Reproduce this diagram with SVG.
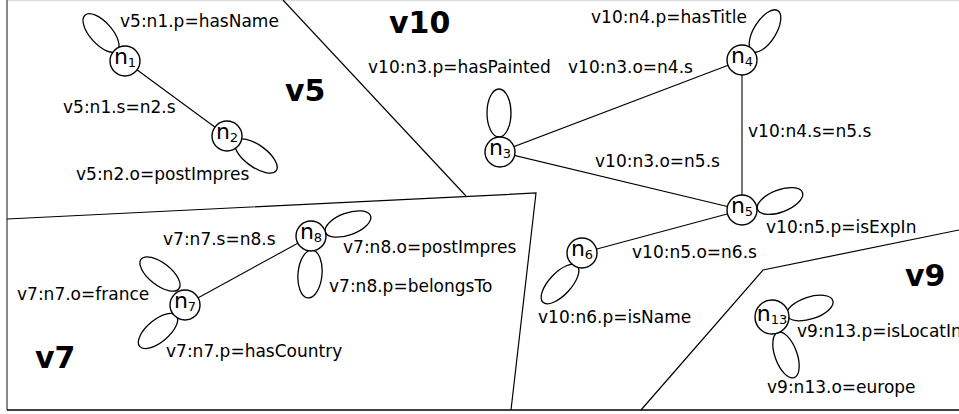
<svg xmlns="http://www.w3.org/2000/svg" width="959" height="414" viewBox="0 0 959 414">
<style>
.bg{fill:#fff}
.ln{stroke:#000;stroke-width:1.2;fill:none}
.edge{stroke:#000;stroke-width:1.1;fill:none}
.loop{stroke:#000;stroke-width:1.3;fill:none}
.node{stroke:#000;stroke-width:1.4;fill:#fff}
.lbl{font-family:"DejaVu Sans","Liberation Sans",sans-serif;font-size:17px;fill:#000}
.nl{font-family:"DejaVu Sans","Liberation Sans",sans-serif;font-size:22px;fill:#000;text-anchor:middle}
.sub{font-size:13px}
.big{font-family:"DejaVu Sans","Liberation Sans",sans-serif;font-size:30px;font-weight:bold;fill:#000}
</style>
<rect class="bg" x="0" y="0" width="959" height="414"/>
<g id="frame">
<line x1="7" y1="0.5" x2="959" y2="0.5" stroke="#ddd" stroke-width="1.5"/>
<line x1="7" y1="0" x2="7" y2="410" stroke="#888" stroke-width="2"/>
<line x1="7" y1="410" x2="959" y2="410" stroke="#000" stroke-width="1.6"/>
</g>
<g id="regions">
<polyline class="ln" points="283,0 466,196"/>
<polyline class="ln" points="7,219 536,193 511,410"/>
<polyline class="ln" points="641,410 763,270 959,230"/>
<text class="big" x="285" y="101">v5</text>
<text class="big" x="389" y="33">v10</text>
<text class="big" x="35" y="368">v7</text>
<text class="big" x="905" y="286">v9</text>
</g>
<g id="connectors">
<line class="edge" x1="125" y1="61" x2="227" y2="136"/>
<line class="edge" x1="500" y1="152" x2="742" y2="60"/>
<line class="edge" x1="500" y1="152" x2="742" y2="210"/>
<line class="edge" x1="742" y1="60" x2="742" y2="210"/>
<line class="edge" x1="742" y1="210" x2="582" y2="253"/>
<line class="edge" x1="185" y1="305" x2="311" y2="236"/>
<ellipse class="loop" cx="101" cy="33" rx="24" ry="11" transform="rotate(48 101 33)"/>
<ellipse class="loop" cx="256" cy="156" rx="25" ry="11" transform="rotate(36 256 156)"/>
<ellipse class="loop" cx="499" cy="113" rx="12" ry="24"/>
<ellipse class="loop" cx="765" cy="31" rx="24" ry="11" transform="rotate(-58 765 31)"/>
<ellipse class="loop" cx="780" cy="201" rx="24" ry="11" transform="rotate(-21 780 201)"/>
<ellipse class="loop" cx="560" cy="284" rx="25" ry="11" transform="rotate(-47 560 284)"/>
<ellipse class="loop" cx="810" cy="308" rx="24" ry="11" transform="rotate(-18 810 308)"/>
<ellipse class="loop" cx="786" cy="355" rx="24" ry="11" transform="rotate(70 786 355)"/>
<ellipse class="loop" cx="160" cy="274" rx="24" ry="11" transform="rotate(38 160 274)"/>
<ellipse class="loop" cx="158" cy="331" rx="24" ry="11" transform="rotate(-40 158 331)"/>
<ellipse class="loop" cx="348" cy="224" rx="24" ry="11" transform="rotate(-20 348 224)"/>
<ellipse class="loop" cx="310" cy="274" rx="24" ry="12" transform="rotate(95 310 274)"/>
<text class="lbl" x="120" y="27">v5:n1.p=hasName</text>
<text class="lbl" x="63" y="113">v5:n1.s=n2.s</text>
<text class="lbl" x="76" y="180">v5:n2.o=postImpres</text>
<text class="lbl" x="368" y="73">v10:n3.p=hasPainted</text>
<text class="lbl" x="568" y="73">v10:n3.o=n4.s</text>
<text class="lbl" x="591" y="23">v10:n4.p=hasTitle</text>
<text class="lbl" x="748" y="137">v10:n4.s=n5.s</text>
<text class="lbl" x="595" y="167">v10:n3.o=n5.s</text>
<text class="lbl" x="766" y="233">v10:n5.p=isExpIn</text>
<text class="lbl" x="632" y="258">v10:n5.o=n6.s</text>
<text class="lbl" x="538" y="323">v10:n6.p=isName</text>
<text class="lbl" x="797" y="337">v9:n13.p=isLocatIn</text>
<text class="lbl" x="767" y="393">v9:n13.o=europe</text>
<text class="lbl" x="163" y="245">v7:n7.s=n8.s</text>
<text class="lbl" x="17" y="300">v7:n7.o=france</text>
<text class="lbl" x="166" y="357">v7:n7.p=hasCountry</text>
<text class="lbl" x="343" y="253">v7:n8.o=postImpres</text>
<text class="lbl" x="329" y="292">v7:n8.p=belongsTo</text>
</g>
<g id="n1"><circle class="node" cx="125" cy="61" r="15"/><text class="nl" x="125" y="64">n<tspan class="sub" dy="3">1</tspan></text></g>
<g id="n2"><circle class="node" cx="227" cy="136" r="15"/><text class="nl" x="227" y="139">n<tspan class="sub" dy="3">2</tspan></text></g>
<g id="n3"><circle class="node" cx="500" cy="152" r="15"/><text class="nl" x="500" y="155">n<tspan class="sub" dy="3">3</tspan></text></g>
<g id="n4"><circle class="node" cx="742" cy="60" r="15"/><text class="nl" x="742" y="63">n<tspan class="sub" dy="3">4</tspan></text></g>
<g id="n5"><circle class="node" cx="742" cy="210" r="15"/><text class="nl" x="742" y="213">n<tspan class="sub" dy="3">5</tspan></text></g>
<g id="n6"><circle class="node" cx="582" cy="253" r="15"/><text class="nl" x="582" y="256">n<tspan class="sub" dy="3">6</tspan></text></g>
<g id="n7"><circle class="node" cx="185" cy="305" r="15"/><text class="nl" x="185" y="308">n<tspan class="sub" dy="3">7</tspan></text></g>
<g id="n8"><circle class="node" cx="311" cy="236" r="15"/><text class="nl" x="311" y="239">n<tspan class="sub" dy="3">8</tspan></text></g>
<g id="n13"><circle class="node" cx="772" cy="317" r="17"/><text class="nl" x="772" y="321">n<tspan class="sub" dy="3">13</tspan></text></g>
</svg>
